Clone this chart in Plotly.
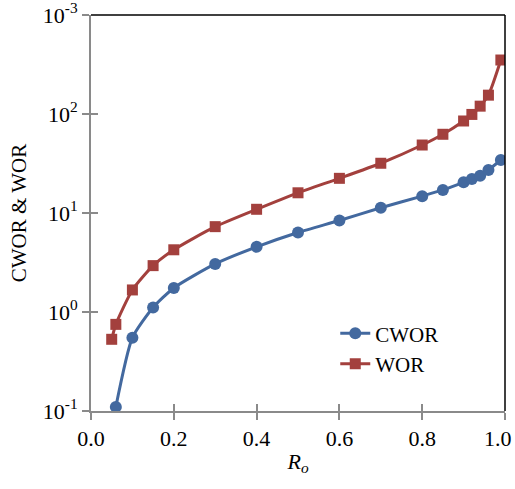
import plotly.graph_objects as go

# Data
ro_cwor = [0.06, 0.10, 0.15, 0.20, 0.30, 0.40, 0.50, 0.60, 0.70, 0.80, 0.85, 0.90, 0.92, 0.94, 0.96, 0.99]
cwor = [0.11, 0.55, 1.11, 1.75, 3.06, 4.55, 6.35, 8.4, 11.3, 14.8, 17.1, 20.4, 22.0, 23.8, 27.2, 34.3]

ro_wor = [0.05, 0.06, 0.10, 0.15, 0.20, 0.30, 0.40, 0.50, 0.60, 0.70, 0.80, 0.85, 0.90, 0.92, 0.94, 0.96, 0.99]
wor = [0.53, 0.75, 1.67, 2.94, 4.25, 7.28, 10.9, 16.0, 22.4, 31.8, 48.6, 62.4, 85.0, 99.0, 120.0, 155.0, 351.0]

x_ticks = [0.0, 0.2, 0.4, 0.6, 0.8, 1.0]
x_ticklabels = ["0.0", "0.2", "0.4", "0.6", "0.8", "1.0"]
y_ticks = [0.1, 1, 10, 100, 1000]
y_ticklabels = ["10<sup>-1</sup>", "10<sup>0</sup>", "10<sup>1</sup>", "10<sup>2</sup>", "10<sup>-3</sup>"]

BLUE = "#43699F"
RED = "#A3403D"
AXIS = "#8A8A8A"
FONT = "Liberation Serif"

fig = go.Figure()
fig.add_trace(go.Scatter(
    x=ro_cwor, y=cwor, name="CWOR", mode="lines+markers",
    line=dict(color=BLUE, width=3, shape="spline", smoothing=0.6),
    marker=dict(symbol="circle", size=12, color=BLUE),
))
fig.add_trace(go.Scatter(
    x=ro_wor, y=wor, name="WOR", mode="lines+markers",
    line=dict(color=RED, width=3, shape="spline", smoothing=0.6),
    marker=dict(symbol="square", size=11, color=RED),
))
# invisible trace to drive the overlay axes (inside half of crossing ticks)
fig.add_trace(go.Scatter(x=[None], y=[None], xaxis="x2", yaxis="y2",
                         showlegend=False, hoverinfo="skip"))

# last x tick label is nudged inward (as in the reference) via an annotation
main_ticktext = x_ticklabels[:-1] + [""]

fig.update_layout(
    width=515, height=489,
    margin=dict(l=91, r=10, t=15, b=78, autoexpand=False),
    paper_bgcolor="white", plot_bgcolor="white",
    font=dict(family=FONT, size=22, color="black"),
    showlegend=True,
    legend=dict(x=0.59, y=0.247, xanchor="left", yanchor="top",
                bgcolor="rgba(0,0,0,0)", font=dict(size=21, family=FONT),
                itemwidth=30, tracegroupgap=0),
    xaxis=dict(
        range=[0, 1], tickvals=x_ticks, ticktext=main_ticktext,
        showgrid=False, zeroline=False, automargin=False,
        showline=True, linecolor=AXIS, linewidth=2,
        ticks="outside", ticklen=7, tickcolor=AXIS, tickwidth=1.5,
        tickfont=dict(size=22, family=FONT),
        title=dict(text="<i>R<sub>o</sub></i>", font=dict(size=22, family=FONT), standoff=3),
    ),
    yaxis=dict(
        type="log", range=[-1, 3], tickvals=y_ticks, ticktext=y_ticklabels,
        showgrid=False, zeroline=False, automargin=False,
        showline=True, linecolor=AXIS, linewidth=2,
        ticks="outside", ticklen=7, tickcolor=AXIS, tickwidth=1.5,
        tickfont=dict(size=22, family=FONT), ticklabeloverflow="allow",
        title=dict(text="CWOR &amp; WOR", font=dict(size=21, family=FONT), standoff=10),
    ),
    xaxis2=dict(
        overlaying="x", anchor="y2", side="bottom", range=[0, 1], tickvals=x_ticks,
        showticklabels=False, showgrid=False, zeroline=False, showline=False,
        ticks="inside", ticklen=7, tickcolor=AXIS, tickwidth=1.5,
    ),
    yaxis2=dict(
        overlaying="y", anchor="x2", side="left", type="log", range=[-1, 3], tickvals=y_ticks,
        showticklabels=False, showgrid=False, zeroline=False, showline=False,
        ticks="inside", ticklen=7, tickcolor=AXIS, tickwidth=1.5,
    ),
    annotations=[
        dict(text=x_ticklabels[-1], x=x_ticks[-1], xref="x", y=0, yref="paper",
             xanchor="right", yanchor="top", xshift=9, yshift=-13, showarrow=False,
             font=dict(size=22, family=FONT, color="black")),
    ],
    shapes=[
        dict(type="line", xref="paper", yref="paper", x0=0, x1=1, y0=1, y1=1,
             line=dict(color="black", width=1.5)),
        dict(type="line", xref="paper", yref="paper", x0=1, x1=1, y0=0, y1=1,
             line=dict(color="black", width=1.5)),
    ],
)

fig.write_html("out.html")
